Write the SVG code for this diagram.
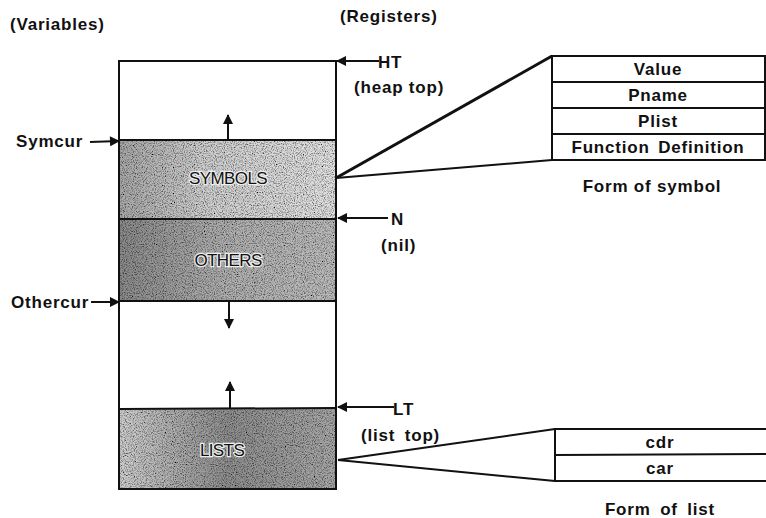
<svg xmlns="http://www.w3.org/2000/svg" width="766" height="518" viewBox="0 0 766 518">
<defs>
<style>
text{font-family:"Liberation Sans",Arial,sans-serif;fill:#111}
.t{font-size:17px;font-weight:bold;letter-spacing:0.8px}
.r{font-size:17px;font-weight:bold;letter-spacing:0.8px}
.lab{font-size:17px;letter-spacing:-0.6px;stroke:#eee;stroke-width:2.5px;paint-order:stroke}
.ln{stroke:#111;stroke-width:2;fill:none}
.box{fill:#fff;stroke:#111;stroke-width:2}
</style>
<marker id="ah" viewBox="0 0 10 10" refX="9" refY="5" markerWidth="6" markerHeight="5" orient="auto-start-reverse" markerUnits="strokeWidth">
<path d="M0,0 L10,5 L0,10 z" fill="#111"/>
</marker>
<linearGradient id="gSym" x1="0" y1="0" x2="1" y2="0">
<stop offset="0" stop-color="#a8a8a8"/><stop offset="0.4" stop-color="#cfcfcf"/><stop offset="1" stop-color="#e2e2e2"/>
</linearGradient>
<linearGradient id="gOth" x1="0" y1="0" x2="1" y2="0">
<stop offset="0" stop-color="#8a8a8a"/><stop offset="0.5" stop-color="#b0b0b0"/><stop offset="1" stop-color="#bcbcbc"/>
</linearGradient>
<linearGradient id="gLst" x1="0" y1="0" x2="1" y2="0">
<stop offset="0" stop-color="#cfcfcf"/><stop offset="0.5" stop-color="#8e8e8e"/><stop offset="1" stop-color="#a8a8a8"/>
</linearGradient>
<filter id="noise" x="0" y="0" width="100%" height="100%">
<feTurbulence type="fractalNoise" baseFrequency="0.9" numOctaves="2" seed="3" result="n"/>
<feColorMatrix in="n" type="matrix" values="0 0 0 0 0  0 0 0 0 0  0 0 0 0 0  0 0 0 -2.2 1.3" result="a"/>
<feComposite in="a" in2="SourceGraphic" operator="in" result="s"/>
<feMerge><feMergeNode in="SourceGraphic"/><feMergeNode in="s"/></feMerge>
</filter>
</defs>

<text class="t" x="10" y="30">(Variables)</text>
<text class="t" x="340" y="22">(Registers)</text>

<g id="heap">
<rect x="119" y="61" width="217" height="428" fill="#fff" stroke="none"/>
<rect x="119" y="140" width="217" height="79" fill="url(#gSym)" filter="url(#noise)"/>
<rect x="119" y="219" width="217" height="82" fill="url(#gOth)" filter="url(#noise)"/>
<rect x="119" y="409" width="217" height="80" fill="url(#gLst)" filter="url(#noise)"/>
<rect x="119" y="61" width="217" height="428" class="ln"/>
<line x1="119" y1="140" x2="336" y2="140" class="ln"/>
<line x1="119" y1="219" x2="336" y2="219" class="ln"/>
<line x1="119" y1="301" x2="336" y2="301" class="ln"/>
<line x1="119" y1="409" x2="336" y2="408" class="ln"/>
<text class="lab" x="228" y="184" text-anchor="middle">SYMBOLS</text>
<text class="lab" x="228" y="266" text-anchor="middle">OTHERS</text>
<text class="lab" x="222" y="456" text-anchor="middle">LISTS</text>
</g>

<g id="symbol-form">
<rect x="552" y="56" width="213" height="104" class="box"/>
<line x1="552" y1="82" x2="765" y2="82" class="ln"/>
<line x1="552" y1="108" x2="765" y2="108" class="ln"/>
<line x1="552" y1="134" x2="765" y2="134" class="ln"/>
<text class="r" x="658" y="75" text-anchor="middle">Value</text>
<text class="r" x="658" y="101" text-anchor="middle">Pname</text>
<text class="r" x="658" y="127" text-anchor="middle">Plist</text>
<text class="r" x="658" y="153" text-anchor="middle" word-spacing="3">Function Definition</text>
<text class="r" x="652" y="192" text-anchor="middle">Form of symbol</text>
</g>

<g id="list-form">
<path d="M766,429 L555,429 L555,481 L766,481" class="box"/>
<line x1="555" y1="455" x2="766" y2="454" class="ln"/>
<text class="r" x="660" y="448" text-anchor="middle">cdr</text>
<text class="r" x="660" y="474" text-anchor="middle">car</text>
<text class="r" x="660" y="515" text-anchor="middle" word-spacing="4">Form of list</text>
</g>

<g id="connectors">
<line x1="228" y1="140" x2="228" y2="115" class="ln" marker-end="url(#ah)"/>
<line x1="229" y1="301" x2="229" y2="328" class="ln" marker-end="url(#ah)"/>
<line x1="230" y1="408" x2="230" y2="382" class="ln" marker-end="url(#ah)"/>
<line x1="90" y1="142" x2="119" y2="141" class="ln" marker-end="url(#ah)"/>
<line x1="91" y1="302" x2="119" y2="302" class="ln" marker-end="url(#ah)"/>
<line x1="379" y1="61" x2="337" y2="61" class="ln" marker-end="url(#ah)"/>
<line x1="388" y1="218" x2="338" y2="218" class="ln" marker-end="url(#ah)"/>
<line x1="394" y1="407" x2="338" y2="407" class="ln" marker-end="url(#ah)"/>
<line x1="336" y1="178" x2="552" y2="56" stroke="#111" stroke-width="3"/>
<line x1="336" y1="178" x2="552" y2="160" class="ln"/>
<line x1="338" y1="460" x2="555" y2="429" class="ln"/>
<line x1="338" y1="460" x2="555" y2="481" class="ln"/>
</g>

<g id="labels">
<text class="t" x="16" y="147">Symcur</text>
<text class="t" x="11" y="308">Othercur</text>
<text class="t" x="378" y="68">HT</text>
<text class="t" x="354" y="93">(heap top)</text>
<text class="t" x="391" y="225">N</text>
<text class="t" x="381" y="251">(nil)</text>
<text class="t" x="393" y="415">LT</text>
<text class="t" x="361" y="441" word-spacing="4">(list top)</text>
</g>
</svg>
